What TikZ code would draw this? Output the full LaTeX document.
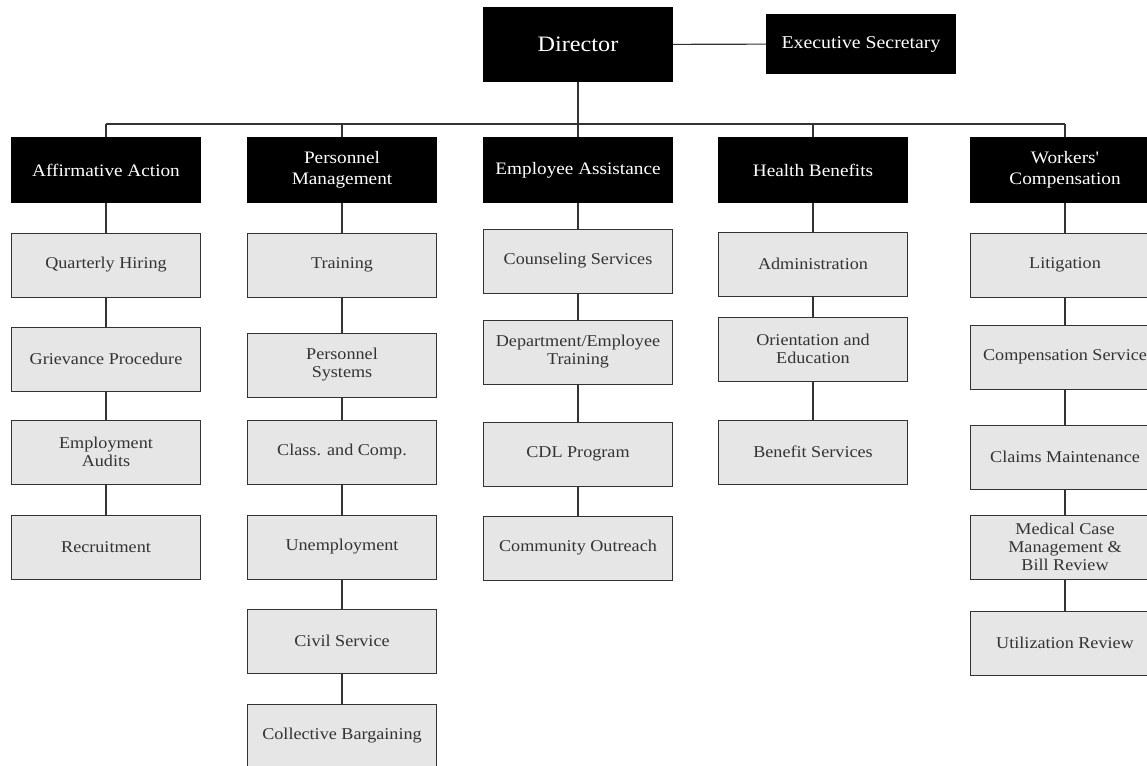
\documentclass[tikz,border=0pt]{standalone}
\usepackage{fontspec}
\setmainfont{Liberation Serif}[FakeStretch=1.1, Ligatures=TeXOff]
\definecolor{boxgray}{HTML}{E6E6E6}
\definecolor{ink}{HTML}{333333}
\tikzset{
  hdr/.style={fill=black, text=white, minimum width=190pt, minimum height=66pt, inner sep=0pt, align=center, font=\fontsize{17.5}{21}\selectfont},
  sub/.style={fill=boxgray, draw=ink, line width=1pt, text=ink, minimum width=189pt, minimum height=64pt, inner sep=0pt, align=center, font=\fontsize{16.5}{18}\selectfont},
  conn/.style={draw=ink, line width=1.1pt},
}
\begin{document}
\begin{tikzpicture}[x=1pt,y=-1pt]
\useasboundingbox[fill=white] (0,0) rectangle (1147,765);
% top
\node[hdr, minimum height=75pt, font=\fontsize{22}{26}\selectfont] (dir) at (578,44.5) {Director};
\node[hdr, minimum height=60pt, font=\fontsize{18}{21}\selectfont] (sec) at (861,44) {Executive Secretary};
% headers
\node[hdr] (aa) at (106,170) {Affirmative Action};
\node[hdr] (pm) at (342,170) {Personnel\\Management};
\node[hdr] (ea) at (578,170) {Employee Assistance};
\node[hdr] (hb) at (813,170) {Health Benefits};
\node[hdr] (wc) at (1065,170) {Workers'\\Compensation};
\coordinate (bus) at (578,124);
\coordinate (busL) at (106,124);
\coordinate (busR) at (1065,124);
\draw[conn] (dir) -- (sec);
\draw[conn] (dir.south) -- (bus);
\draw[conn] (busL) -- (busR);
\foreach \h in {aa,pm,ea,hb,wc} {\draw[conn] (\h.north |- bus) -- (\h.north);}
% Affirmative Action
\node[sub] (aa1) at (106,265) {Quarterly Hiring};
\node[sub] (aa2) at (106,359) {Grievance Procedure};
\node[sub] (aa3) at (106,452) {Employment\\Audits};
\node[sub] (aa4) at (106,547) {Recruitment};
% Personnel Management
\node[sub] (pm1) at (342,265) {Training};
\node[sub] (pm2) at (342,365) {Personnel\\Systems};
\node[sub] (pm3) at (342,452) {Class. and Comp.};
\node[sub] (pm4) at (342,547) {Unemployment};
\node[sub] (pm5) at (342,641) {Civil Service};
\node[sub] (pm6) at (342,736) {Collective Bargaining};
% Employee Assistance
\node[sub] (ea1) at (578,261) {Counseling Services};
\node[sub] (ea2) at (578,352) {Department/Employee\\Training};
\node[sub] (ea3) at (578,454) {CDL Program};
\node[sub] (ea4) at (578,548) {Community Outreach};
% Health Benefits
\node[sub] (hb1) at (813,264) {Administration};
\node[sub] (hb2) at (813,349) {Orientation and\\Education};
\node[sub] (hb3) at (813,452) {Benefit Services};
% Workers' Compensation
\node[sub] (wc1) at (1065,265) {Litigation};
\node[sub] (wc2) at (1065,357) {Compensation Service};
\node[sub] (wc3) at (1065,457) {Claims Maintenance};
\node[sub] (wc4) at (1065,547) {Medical Case\\Management \&\\Bill Review};
\node[sub] (wc5) at (1065,643) {Utilization Review};
% connectors
\draw[conn] (aa) -- (aa1) (aa1) -- (aa2) (aa2) -- (aa3) (aa3) -- (aa4);
\draw[conn] (pm) -- (pm1) (pm1) -- (pm2) (pm2) -- (pm3) (pm3) -- (pm4) (pm4) -- (pm5) (pm5) -- (pm6);
\draw[conn] (ea) -- (ea1) (ea1) -- (ea2) (ea2) -- (ea3) (ea3) -- (ea4);
\draw[conn] (hb) -- (hb1) (hb1) -- (hb2) (hb2) -- (hb3);
\draw[conn] (wc) -- (wc1) (wc1) -- (wc2) (wc2) -- (wc3) (wc3) -- (wc4) (wc4) -- (wc5);
\end{tikzpicture}
\end{document}
